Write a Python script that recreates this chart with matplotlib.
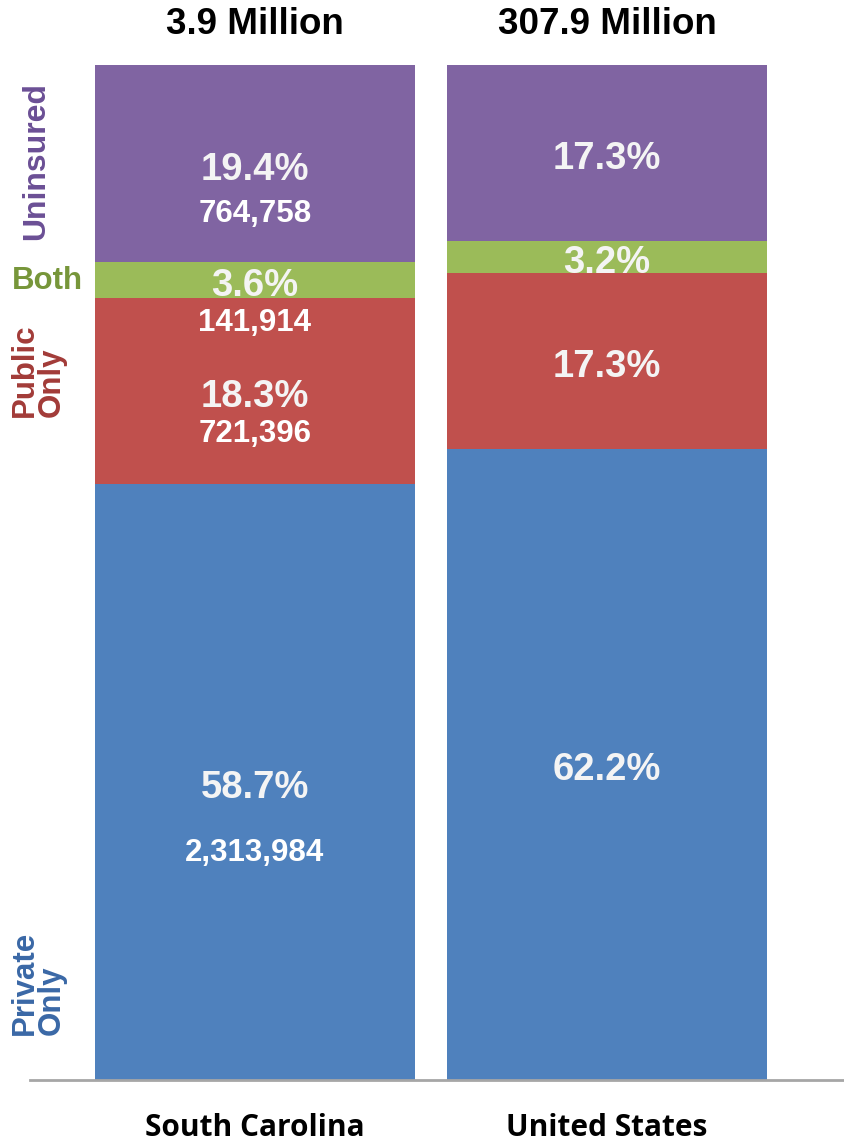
import matplotlib
matplotlib.use("Agg")
import matplotlib.pyplot as plt

plt.rcParams['font.family'] = ['Liberation Sans', 'DejaVu Sans']

regions = ["South Carolina", "United States"]
totals = ["3.9 Million", "307.9 Million"]
segments = ["Private Only", "Public Only", "Both", "Uninsured"]
private_only = [58.7, 62.2]
public_only = [18.3, 17.3]
both = [3.6, 3.2]
uninsured = [19.4, 17.3]
sc_counts = ["2,313,984", "721,396", "141,914", "764,758"]

colors = ["#4F81BD", "#C0504D", "#9BBB59", "#8064A2"]
label_colors = ["#3A68A6", "#A23B38", "#77963A", "#6B4F95"]

fig = plt.figure(figsize=(8.44, 11.45), dpi=100)
ax = fig.add_axes([30/844, 65/1145, 814/844, 1015/1145])
x = [0, 1]
ax.set_xlim(-225/352, 1 + 237/352)
ax.set_ylim(0, 100)

series = [private_only, public_only, both, uninsured]
bottoms = [0.0, 0.0]
seg_bounds = []
for vals, c in zip(series, colors):
    ax.bar(x, vals, width=320/352, bottom=bottoms, color=c, edgecolor='none', zorder=2)
    seg_bounds.append([(b, b + v) for b, v in zip(bottoms, vals)])
    bottoms = [b + v for b, v in zip(bottoms, vals)]

pct_kw = dict(ha='center', va='center', color='#F4F4F4', fontsize=27.5, fontweight='bold', zorder=5)
cnt_kw = dict(ha='center', va='center', color='white', fontsize=22.5, fontweight='bold', zorder=5)

# percentage labels at segment centers
for si, vals in enumerate(series):
    for xi in x:
        lo, hi = seg_bounds[si][xi]
        ax.text(xi, (lo + hi) / 2 - 0.6, f"{vals[xi]:.1f}%", **pct_kw)

# South Carolina counts
count_offsets = [-7.0, -4.2, None, -5.0]
for si, off in enumerate(count_offsets):
    lo, hi = seg_bounds[si][0]
    if off is None:
        y = lo - 2.4
    else:
        y = (lo + hi) / 2 + off
    ax.text(0, y, sc_counts[si], **cnt_kw)

# totals on top
for xi, t in zip(x, totals):
    ax.text(xi, 100 + 4.0, t, ha='center', va='center', fontsize=26.5,
            fontweight='bold', color='black', clip_on=False)

# region labels at the bottom
for xi, r in zip(x, regions):
    ax.text(xi, -4.7, r, ha='center', va='center', fontsize=21.5,
            fontweight='bold', color='black', family=['Open Sans', 'DejaVu Sans'],
            clip_on=False)

# side labels
fx = lambda px: px / 844
fy = lambda py: 1 - py / 1145
fig.text(fx(36), fy(161), "Uninsured", rotation=90, ha='center', va='center',
         fontsize=23, fontweight='bold', color=label_colors[3])
fig.text(fx(47), fy(281), "Both", ha='center', va='center',
         fontsize=22.5, fontweight='bold', color=label_colors[2])
fig.text(fx(38), fy(370), "Public\nOnly", rotation=90, ha='center', va='center',
         multialignment='left', fontsize=22.5, fontweight='bold', color=label_colors[1],
         linespacing=0.85)
fig.text(fx(38), fy(983), "Private\nOnly", rotation=90, ha='center', va='center',
         multialignment='left', fontsize=22.5, fontweight='bold', color=label_colors[0],
         linespacing=0.85)

ax.set_xticks([])
ax.set_yticks([])
for s in ['top', 'right', 'left']:
    ax.spines[s].set_visible(False)
ax.spines['bottom'].set_color('#A6A6A6')
ax.spines['bottom'].set_linewidth(2)
ax.patch.set_alpha(0)

fig.savefig("out.png", dpi=100)
